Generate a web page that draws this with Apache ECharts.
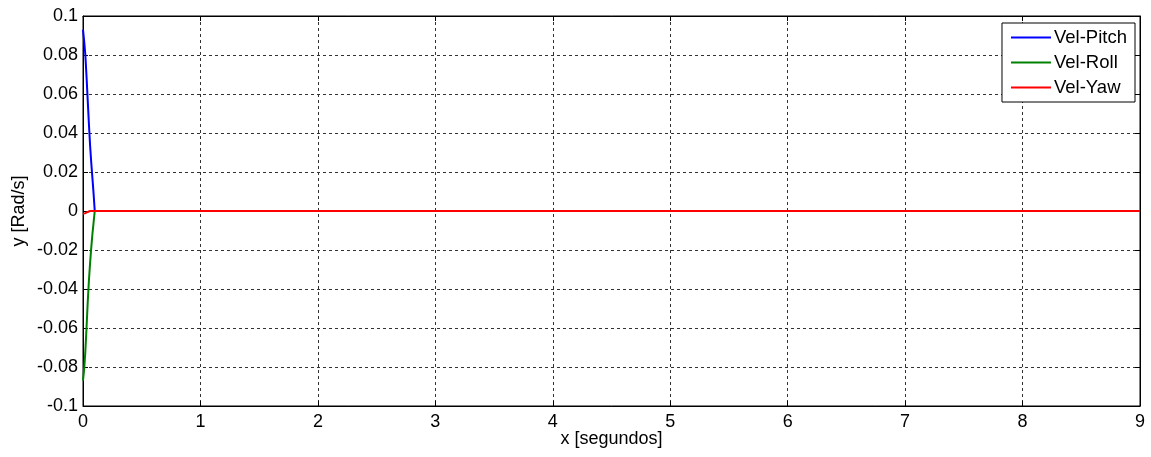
<!DOCTYPE html>
<html>
<head>
<meta charset="utf-8">
<script src="https://cdn.jsdelivr.net/npm/echarts@6/dist/echarts.min.js"></script>
<style>
html,body{margin:0;padding:0;background:#fff;}
#chart{width:1151px;height:457px;}
</style>
</head>
<body>
<div id="chart"></div>
<script>
// Time samples (seconds)
const timePitch = [0, 0.01, 0.02, 0.03, 0.04, 0.05, 0.06, 0.07, 0.08, 0.09, 0.1];
const timeRoll  = [0, 0.01, 0.02, 0.03, 0.04, 0.05, 0.06, 0.07, 0.08, 0.09, 0.1];
const timeYaw   = [0, 0.01, 0.02, 0.03, 0.04, 0.05, 0.06, 9];
// Series values (rad/s)
const velPitch = [0.093, 0.087, 0.080, 0.069, 0.057, 0.045, 0.034, 0.025, 0.017, 0.009, 0];
const velRoll  = [-0.087, -0.081, -0.072, -0.060, -0.047, -0.036, -0.027, -0.019, -0.012, -0.006, 0];
const velYaw   = [-0.0015, -0.0013, -0.0011, -0.0008, -0.0005, -0.0002, 0, 0];
const seriesNames = ['Vel-Pitch', 'Vel-Roll', 'Vel-Yaw'];
const seriesColors = ['#0000ff', '#008000', '#ff0000'];
const xTicks = [0,1,2,3,4,5,6,7,8,9];
const yTicks = [-0.1,-0.08,-0.06,-0.04,-0.02,0,0.02,0.04,0.06,0.08,0.1];

const pairs = (ts, v) => ts.map((t, i) => [t, v[i]]);
const font = 'Liberation Sans, Arial, sans-serif';
const fs = 18;

const chart = echarts.init(document.getElementById('chart'), null, {renderer: 'canvas'});
const gridLine = {show: true, lineStyle: {color: '#333', type: [3, 3], width: 1}};
const tickIn = {show: true, inside: true, length: 5, lineStyle: {color: '#000'}};
chart.setOption({
  animation: false,
  backgroundColor: '#fff',
  grid: {left: 83, right: 11, top: 16, bottom: 51, show: true, borderColor: '#000', borderWidth: 1,
         containLabel: false, outerBoundsMode: 'none'},
  legend: {
    right: 16, top: 23, orient: 'vertical', itemGap: 6,
    itemWidth: 40, itemHeight: 19,
    padding: [5, 8, 5, 9],
    borderColor: '#000', borderWidth: 1, backgroundColor: '#fff',
    textStyle: {fontFamily: font, fontSize: 18.5, color: '#000', padding: [0,0,0,-2]},
    icon: 'path://M0,9 L40,9 L40,11 L0,11 Z',
    data: seriesNames
  },
  xAxis: [{
    type: 'value', min: 0, max: 9, interval: 1,
    name: 'x [segundos]', nameLocation: 'middle', nameGap: 24, nameMoveOverlap: false,
    nameTextStyle: {fontFamily: font, fontSize: fs, color: '#000'},
    axisLine: {show: true, onZero: false, lineStyle: {color: '#000'}},
    axisTick: tickIn,
    axisLabel: {fontFamily: font, fontSize: fs, color: '#000', margin: 7, formatter: v => xTicks.includes(v) ? String(v) : ''},
    splitLine: gridLine
  }, {
    type: 'value', min: 0, max: 9, interval: 1, position: 'top',
    axisLine: {show: true, onZero: false, lineStyle: {color: '#000'}},
    axisTick: tickIn, axisLabel: {show: false}, splitLine: {show: false}
  }],
  yAxis: [{
    type: 'value', min: -0.1, max: 0.1, interval: 0.02,
    name: 'y [Rad/s]', nameLocation: 'middle', nameGap: 55, nameRotate: 90, nameMoveOverlap: false,
    nameTextStyle: {fontFamily: font, fontSize: fs, color: '#000'},
    axisLine: {show: true, onZero: false, lineStyle: {color: '#000'}},
    axisTick: tickIn,
    axisLabel: {fontFamily: font, fontSize: fs, color: '#000', margin: 5,
      formatter: v => { const r = Math.round(v * 100) / 100; return r === 0 ? '0' : String(r); }},
    splitLine: gridLine
  }, {
    type: 'value', min: -0.1, max: 0.1, interval: 0.02, position: 'right',
    axisLine: {show: true, onZero: false, lineStyle: {color: '#000'}},
    axisTick: tickIn, axisLabel: {show: false}, splitLine: {show: false}
  }],
  series: [[timePitch, velPitch], [timeRoll, velRoll], [timeYaw, velYaw]].map((d, i) => ({
    name: seriesNames[i], type: 'line', data: pairs(d[0], d[1]), showSymbol: false, symbol: 'none',
    lineStyle: {color: seriesColors[i], width: 2}, itemStyle: {color: seriesColors[i]}, z: 2 + i
  }))
});
</script>
</body>
</html>
